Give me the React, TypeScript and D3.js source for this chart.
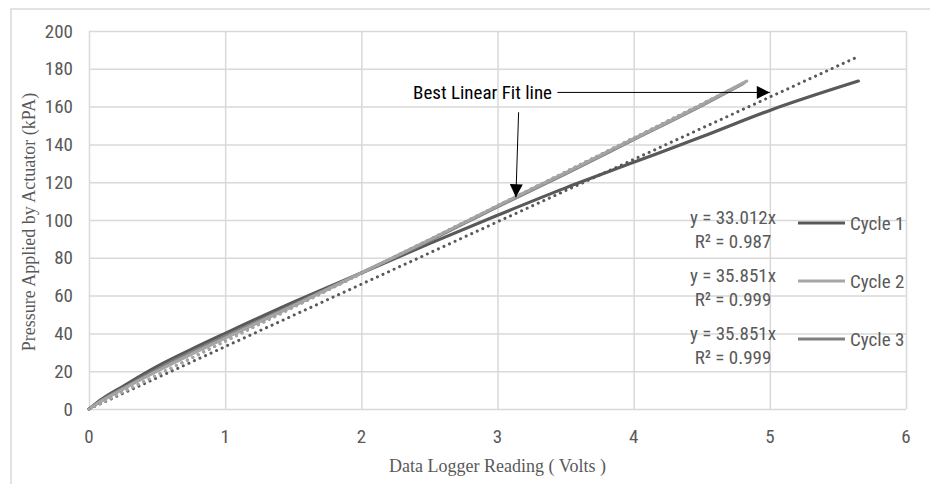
import { useEffect, useRef } from 'react';
import * as d3 from 'd3';

// readings (volts) and pressure (kPA) per cycle
const cycle1X = [0, 0.1, 0.25, 0.5, 0.75, 1, 1.5, 2, 2.5, 3, 3.5, 4, 4.5, 5, 5.65];
const cycle1Y = [0, 5.5, 12, 22.5, 31.5, 40, 56.5, 72, 87.5, 102.5, 117, 130.5, 144, 158, 173.5];
const cycle2X = [0, 0.1, 0.25, 0.5, 0.75, 1, 1.5, 2, 2.5, 3, 3.5, 4, 4.5, 4.83];
const cycle2Y = [0, 4.5, 10.5, 20, 29, 37.5, 54.5, 72, 89.5, 107.5, 125, 143, 161, 173.5];
const cycle3X = [0, 0.1, 0.25, 0.5, 0.75, 1, 1.5, 2, 2.5, 3, 3.5, 4, 4.5, 4.8];
const cycle3Y = [0, 5, 11, 21, 30, 38.5, 55, 72, 89, 107, 124.5, 142.5, 160.5, 172];

const seriesNames = ['Cycle 1', 'Cycle 2', 'Cycle 3'];
const slopes = [33.012, 35.851, 35.851];
const rSquared = ['0.987', '0.999', '0.999'];
const colors = ['#595959', '#a6a6a6', '#7f7f7f'];

const xTicks = [0, 1, 2, 3, 4, 5, 6];
const yTicks = [0, 20, 40, 60, 80, 100, 120, 140, 160, 180, 200];

// annotation: label position and arrow tips in data units
const noteLabel = { x: 2.89, y: 167.5 };
const noteArrowRight = { from: 3.44, to: 5.0, y: 167.5 };
const noteArrowDown = { from: { x: 3.155, y: 157 }, to: { x: 3.135, y: 112 } };

const sansFont = "'Liberation Sans Narrow', 'Roboto Condensed', 'Open Sans', sans-serif";
const serifFont = "'Liberation Serif', 'DejaVu Serif', serif";

const Chart = () => {
  const ref = useRef<HTMLDivElement>(null);

  useEffect(() => {
    document.body.style.margin = '0';
    d3.select(ref.current).selectAll('*').remove();

    const width = 930; const height = 484;
    const left = 89; const right = 906; const top = 31; const bottom = 409;

    const svg = d3.select(ref.current)
      .append('svg')
      .attr('width', width)
      .attr('height', height)
      .style('display', 'block')
      .style('background', '#fff');

    const x = d3.scaleLinear().domain([0, 6]).range([left, right]);
    const y = d3.scaleLinear().domain([0, 200]).range([bottom, top]);

    // outer chart frame
    svg.append('rect')
      .attr('x', 11).attr('y', 9)
      .attr('width', width).attr('height', height)
      .attr('fill', 'none')
      .attr('stroke', '#d9d9d9')
      .attr('stroke-width', 1.5);

    const defs = svg.append('defs');
    defs.append('marker')
      .attr('id', 'arrow')
      .attr('viewBox', '0 0 10 10')
      .attr('refX', 10).attr('refY', 5)
      .attr('markerWidth', 14).attr('markerHeight', 13)
      .attr('markerUnits', 'userSpaceOnUse')
      .attr('orient', 'auto')
      .append('path')
      .attr('d', 'M0,0 L10,5 L0,10 Z')
      .attr('fill', '#000');

    // gridlines
    svg.append('g')
      .attr('transform', `translate(0, ${bottom})`)
      .call(d3.axisBottom(x).tickValues(xTicks).tickSize(-(bottom - top)).tickFormat(() => ''))
      .call(g => g.select('.domain').remove())
      .call(g => g.selectAll('line').attr('stroke', '#d9d9d9').attr('stroke-width', 1.5));

    svg.append('g')
      .attr('transform', `translate(${left}, 0)`)
      .call(d3.axisLeft(y).tickValues(yTicks).tickSize(-(right - left)).tickFormat(() => ''))
      .call(g => g.select('.domain').remove())
      .call(g => g.selectAll('line').attr('stroke', '#d9d9d9').attr('stroke-width', 1.5));

    // tick labels
    svg.selectAll('.xlab')
      .data(xTicks)
      .enter()
      .append('text')
      .attr('x', d => x(d))
      .attr('y', 443)
      .attr('text-anchor', 'middle')
      .attr('font-family', sansFont)
      .attr('font-size', 19)
      .attr('fill', '#595959')
      .text(d => d);

    svg.selectAll('.ylab')
      .data(yTicks)
      .enter()
      .append('text')
      .attr('x', 73)
      .attr('y', d => y(d) + 6.5)
      .attr('text-anchor', 'end')
      .attr('font-family', sansFont)
      .attr('font-size', 19)
      .attr('fill', '#595959')
      .text(d => d);

    // axis titles
    svg.append('text')
      .attr('transform', `translate(35, ${(top + bottom) / 2 + 2}) rotate(-90)`)
      .attr('text-anchor', 'middle')
      .attr('font-family', serifFont)
      .attr('font-size', 18)
      .attr('fill', '#595959')
      .text('Pressure Applied by Actuator (kPA)');

    svg.append('text')
      .attr('x', (left + right) / 2)
      .attr('y', 472)
      .attr('text-anchor', 'middle')
      .attr('font-family', serifFont)
      .attr('font-size', 18)
      .attr('fill', '#595959')
      .text('Data Logger Reading ( Volts )');

    const line = d3.line<[number, number]>()
      .x(d => x(d[0]))
      .y(d => y(d[1]))
      .curve(d3.curveMonotoneX);

    const series = [
      { xs: cycle1X, ys: cycle1Y },
      { xs: cycle2X, ys: cycle2Y },
      { xs: cycle3X, ys: cycle3Y },
    ];

    // draw cycle 1, cycle 3, then cycle 2 on top
    [0, 2, 1].forEach(i => {
      const pts = series[i].xs.map((v, j) => [v, series[i].ys[j]] as [number, number]);
      svg.append('path')
        .attr('d', line(pts))
        .attr('fill', 'none')
        .attr('stroke', colors[i])
        .attr('stroke-width', 3.2)
        .attr('stroke-linecap', 'round');
    });

    // linear trendlines through the origin
    [0, 2, 1].forEach(i => {
      const xmax = series[i].xs[series[i].xs.length - 1];
      svg.append('line')
        .attr('x1', x(0)).attr('y1', y(0))
        .attr('x2', x(xmax)).attr('y2', y(slopes[i] * xmax))
        .attr('stroke', i === 0 ? '#595959' : colors[i])
        .attr('stroke-width', 3)
        .attr('stroke-dasharray', '0.1 6')
        .attr('stroke-linecap', 'round');
    });

    // legend with equations
    const legendY = [223, 281, 339];
    seriesNames.forEach((name, i) => {
      const ly = legendY[i];
      svg.append('line')
        .attr('x1', 798).attr('x2', 845)
        .attr('y1', ly).attr('y2', ly)
        .attr('stroke', colors[i])
        .attr('stroke-width', 3.2);
      svg.append('text')
        .attr('x', 850).attr('y', ly + 6.5)
        .attr('font-family', sansFont)
        .attr('font-size', 19)
        .attr('fill', '#595959')
        .text(name);
      svg.append('text')
        .attr('x', 733).attr('y', ly + 1)
        .attr('text-anchor', 'middle')
        .attr('font-family', sansFont)
        .attr('font-size', 19)
        .attr('fill', '#595959')
        .text(`y = ${slopes[i].toFixed(3)}x`);
      svg.append('text')
        .attr('x', 733).attr('y', ly + 25)
        .attr('text-anchor', 'middle')
        .attr('font-family', sansFont)
        .attr('font-size', 19)
        .attr('fill', '#595959')
        .text(`R² = ${rSquared[i]}`);
    });

    // annotation
    svg.append('text')
      .attr('x', x(noteLabel.x))
      .attr('y', y(noteLabel.y) + 6.5)
      .attr('text-anchor', 'middle')
      .attr('font-family', sansFont)
      .attr('font-size', 19)
      .attr('fill', '#000')
      .text('Best Linear Fit line');

    svg.append('line')
      .attr('x1', x(noteArrowRight.from)).attr('y1', y(noteArrowRight.y))
      .attr('x2', x(noteArrowRight.to)).attr('y2', y(noteArrowRight.y))
      .attr('stroke', '#000')
      .attr('stroke-width', 1)
      .attr('marker-end', 'url(#arrow)');

    svg.append('line')
      .attr('x1', x(noteArrowDown.from.x)).attr('y1', y(noteArrowDown.from.y))
      .attr('x2', x(noteArrowDown.to.x)).attr('y2', y(noteArrowDown.to.y))
      .attr('stroke', '#000')
      .attr('stroke-width', 1)
      .attr('marker-end', 'url(#arrow)');
  }, []);

  return <div ref={ref}></div>;
};

export default function App() {
  return <Chart />;
}
